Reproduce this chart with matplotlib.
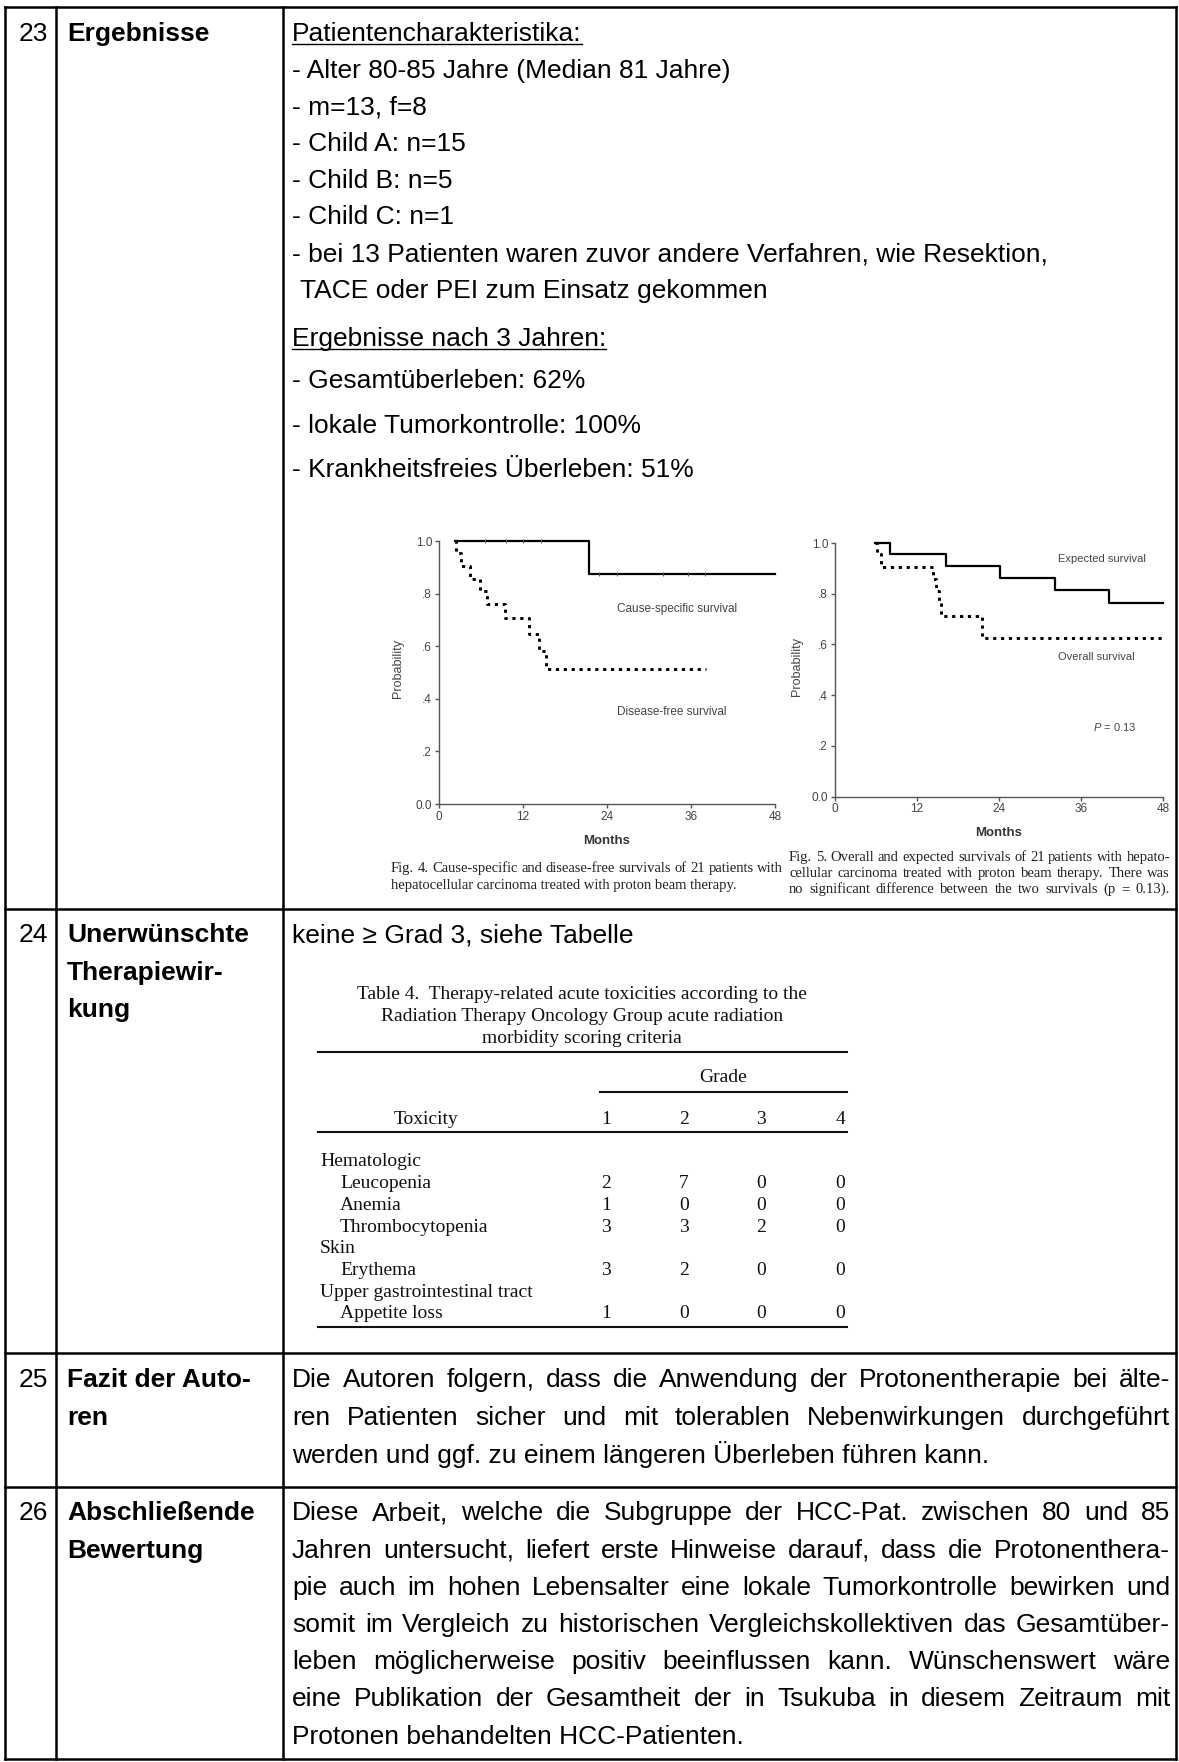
import matplotlib
matplotlib.use("Agg")
import matplotlib.pyplot as plt

W, H = 1179, 1762
SANS = ["Liberation Sans", "DejaVu Sans"]
SERIF = ["Liberation Serif", "DejaVu Serif"]
plt.rcParams["font.family"] = SANS
plt.rcParams["mathtext.fontset"] = "custom"
plt.rcParams["mathtext.it"] = "Liberation Sans:italic"
plt.rcParams["mathtext.rm"] = "Liberation Sans"

# --- survival curves (months, probability) ---
cause_t = [2.3, 21.4, 48.0]
cause_p = [1.0, 0.876, 0.876]
cause_cens_t = [6.5, 9.5, 12.0, 14.5, 22.8, 25.4, 32.0, 35.6, 38.0]
cause_cens_p = [1.0, 1.0, 1.0, 1.0, 0.876, 0.876, 0.876, 0.876, 0.876]

dfs_t = [2.3, 2.4, 3.2, 4.4, 5.9, 6.9, 9.4, 12.9, 14.3, 15.3, 38.1]
dfs_p = [1.0, 0.955, 0.905, 0.857, 0.81, 0.762, 0.707, 0.645, 0.58, 0.512, 0.512]

exp_t = [5.85, 8.05, 16.2, 24.1, 32.2, 40.1, 48.0]
exp_p = [1.0, 0.955, 0.909, 0.861, 0.815, 0.765, 0.765]

ovs_t = [5.85, 6.1, 6.8, 14.4, 14.8, 15.2, 15.5, 21.5, 48.0]
ovs_p = [1.0, 0.955, 0.907, 0.857, 0.81, 0.762, 0.714, 0.627, 0.627]

month_ticks = [0, 12, 24, 36, 48]
prob_ticks = [0.0, 0.2, 0.4, 0.6, 0.8, 1.0]
prob_labels = ["0.0", ".2", ".4", ".6", ".8", "1.0"]

# --- toxicity table ---
tox_groups = ["Hematologic", "Skin", "Upper gastrointestinal tract"]
tox_items = [["Leucopenia", "Anemia", "Thrombocytopenia"], ["Erythema"], ["Appetite loss"]]
grade1 = [2, 1, 3, 3, 1]
grade2 = [7, 0, 3, 2, 0]
grade3 = [0, 0, 2, 0, 0]
grade4 = [0, 0, 0, 0, 0]

fig = plt.figure(figsize=(W / 100, H / 100), dpi=100)
ax = fig.add_axes([0, 0, 1, 1])
ax.set_xlim(0, W)
ax.set_ylim(H, 0)
ax.axis("off")
renderer = fig.canvas.get_renderer()


def txt(x, yc, s, size=19, weight="normal", ha="left", family=SANS, color="black", cap=0.716, **kw):
    em = size / 0.72
    return ax.text(x, yc + cap * em / 2, s, fontsize=size, fontweight=weight, ha=ha,
                   va="baseline", family=family, color=color, **kw)


def justify(x0, x1, yc, s, size=19, family=SANS, color="black", cap=0.716):
    words = s.split()
    objs = [txt(0, yc, w, size=size, family=family, color=color, cap=cap) for w in words]
    widths = [o.get_window_extent(renderer).width for o in objs]
    gap = (x1 - x0 - sum(widths)) / (len(words) - 1)
    x = x0
    for o, w in zip(objs, widths):
        o.set_x(x)
        x += w + gap


def underlined(x, yc, s):
    t = txt(x, yc, s)
    w = t.get_window_extent(renderer).width
    yb = yc + 0.716 * (19 / 0.72) / 2 + 3
    ax.plot([x, x + w], [yb, yb], color="black", lw=1.0)


# --- outer table grid ---
LW = 1.8
x_left, x_c1, x_c2, x_right = 5, 56, 283, 1176
row_lines = [7, 909, 1353, 1487, 1759]
for y in row_lines:
    ax.plot([x_left, x_right], [y, y], color="black", lw=LW, solid_capstyle="projecting")
for x in [x_left, x_c1, x_c2, x_right]:
    ax.plot([x, x], [row_lines[0], row_lines[-1]], color="black", lw=LW, solid_capstyle="projecting")

# row numbers and labels
TX = 292
labels = [("23", ["Ergebnisse"], 32),
          ("24", ["Unerwünschte", "Therapiewir-", "kung"], 933),
          ("25", ["Fazit der Auto-", "ren"], 1378),
          ("26", ["Abschließende", "Bewertung"], 1511)]
for num, lines, y0 in labels:
    txt(48, y0, num, ha="right")
    for i, s in enumerate(lines):
        txt(67, y0 + 37.3 * i, s, weight="bold")

# row 23 text
underlined(TX, 32, "Patientencharakteristika:")
block1 = ["- Alter 80-85 Jahre (Median 81 Jahre)", "- m=13, f=8", "- Child A: n=15",
          "- Child B: n=5", "- Child C: n=1",
          "- bei 13 Patienten waren zuvor andere Verfahren, wie Resektion,"]
for i, s in enumerate(block1):
    txt(TX, 32 + 36.6 * (i + 1), s)
txt(TX + 8, 32 + 36.6 * 7, "TACE oder PEI zum Einsatz gekommen")
underlined(TX, 337, "Ergebnisse nach 3 Jahren:")
for i, s in enumerate(["- Gesamtüberleben: 62%", "- lokale Tumorkontrolle: 100%",
                       "- Krankheitsfreies Überleben: 51%"]):
    txt(TX, 379 + 44.5 * i, s)


# --- Kaplan-Meier panels ---
def km_axes(x0, x1, y_top, y_bot):
    a = fig.add_axes([x0 / W, 1 - y_bot / H, (x1 - x0) / W, (y_bot - y_top) / H])
    a.set_xlim(0, 48)
    a.set_ylim(0, 1)
    a.patch.set_alpha(0)
    for sp in ["top", "right"]:
        a.spines[sp].set_visible(False)
    for sp in ["left", "bottom"]:
        a.spines[sp].set_color("#555555")
        a.spines[sp].set_linewidth(1.0)
    a.set_xticks(month_ticks)
    a.set_yticks(prob_ticks)
    a.set_yticklabels(prob_labels)
    a.tick_params(direction="out", length=3, width=1, color="#555555",
                  labelsize=8.5, labelcolor="#444444", pad=2)
    return a


DOT = (0, (1.1, 1.6))
a1 = km_axes(439, 775, 541, 804)
a1.step(cause_t, cause_p, where="post", color="black", lw=1.6, clip_on=False)
a1.plot(cause_cens_t, cause_cens_p, ls="none", marker="|", ms=3, mew=0.7, color="#555555", clip_on=False)
a1.step(dfs_t, dfs_p, where="post", color="black", lw=2.1, ls=DOT, dash_capstyle="butt", clip_on=False)
a1.text(25.4, 0.743, "Cause-specific survival", fontsize=8.5, color="#444444", va="center")
a1.text(25.4, 0.35, "Disease-free survival", fontsize=8.5, color="#444444", va="center")

a2 = km_axes(835, 1163, 543, 796.5)
a2.step(exp_t, exp_p, where="post", color="black", lw=1.6, clip_on=False)
a2.step(ovs_t, ovs_p, where="post", color="black", lw=2.1, ls=DOT, dash_capstyle="butt", clip_on=False)
a2.text(32.6, 0.935, "Expected survival", fontsize=8, color="#444444", va="center")
a2.text(32.6, 0.552, "Overall survival", fontsize=8, color="#444444", va="center")
a2.text(37.8, 0.275, "$\\it{P}$ = 0.13", fontsize=8, color="#444444", va="center")

for xc, yc in [(398, 668), (797, 667)]:
    ax.text(xc, yc, "Probability", rotation=90, fontsize=9, color="#444444", ha="center", va="center")
txt(607, 839, "Months", size=9.5, weight="bold", ha="center", color="#333333")
txt(999, 831, "Months", size=9.5, weight="bold", ha="center", color="#333333")

# figure captions
CAP = 10.5
justify(391, 783, 867, "Fig. 4.  Cause-specific and disease-free survivals of 21 patients with",
        size=CAP, family=SERIF, color="#222222", cap=0.66)
txt(391, 884, "hepatocellular carcinoma treated with proton beam therapy.", size=CAP,
    family=SERIF, color="#222222", cap=0.66)
justify(789, 1170, 856, "Fig. 5.  Overall and expected survivals of 21 patients with hepato-",
        size=CAP, family=SERIF, color="#222222", cap=0.66)
justify(789, 1170, 872, "cellular carcinoma treated with proton beam therapy. There was",
        size=CAP, family=SERIF, color="#222222", cap=0.66)
justify(789, 1170, 888, "no significant difference between the two survivals (p = 0.13).",
        size=CAP, family=SERIF, color="#222222", cap=0.66)

# row 24: toxicity table
txt(TX, 933, "keine ≥ Grad 3, siehe Tabelle")
TS = 14
TC = "#111111"
for i, s in enumerate(["Table 4.  Therapy-related acute toxicities according to the",
                       "Radiation Therapy Oncology Group acute radiation",
                       "morbidity scoring criteria"]):
    txt(582, 993 + 22 * i, s, size=TS, family=SERIF, ha="center", cap=0.66, color=TC)
tl, tr = 318, 847
for y, x0 in [(1052, tl), (1092, 600), (1132, tl), (1327, tl)]:
    ax.plot([x0, tr], [y, y], color=TC, lw=1.5)
txt(723, 1076, "Grade", size=TS, family=SERIF, ha="center", cap=0.66, color=TC)
txt(426, 1118, "Toxicity", size=TS, family=SERIF, ha="center", cap=0.66, color=TC)
grade_x = [606, 684, 761, 840]
for g, gx in enumerate(grade_x):
    txt(gx, 1118, str(g + 1), size=TS, family=SERIF, ha="center", cap=0.66, color=TC)

grades = [grade1, grade2, grade3, grade4]
y = 1160
k = 0
for grp, items in zip(tox_groups, tox_items):
    txt(320, y, grp, size=TS, family=SERIF, cap=0.66, color=TC)
    y += 21.7
    for name in items:
        txt(340, y, name, size=TS, family=SERIF, cap=0.66, color=TC)
        for gx, col in zip(grade_x, grades):
            txt(gx, y, str(col[k]), size=TS, family=SERIF, ha="center", cap=0.66, color=TC)
        k += 1
        y += 21.7

# row 25
R = 1170
justify(TX, R, 1378, "Die Autoren folgern, dass die Anwendung der Protonentherapie bei älte-")
justify(TX, R, 1416, "ren Patienten sicher und mit tolerablen Nebenwirkungen durchgeführt")
txt(TX, 1454, "werden und ggf. zu einem längeren Überleben führen kann.")

# row 26
body26 = ["Diese Arbeit, welche die Subgruppe der HCC-Pat. zwischen 80 und 85",
          "Jahren untersucht, liefert erste Hinweise darauf, dass die Protonenthera-",
          "pie auch im hohen Lebensalter eine lokale Tumorkontrolle bewirken und",
          "somit im Vergleich zu historischen Vergleichskollektiven das Gesamtüber-",
          "leben möglicherweise positiv beeinflussen kann. Wünschenswert wäre",
          "eine Publikation der Gesamtheit der in Tsukuba in diesem Zeitraum mit"]
for i, s in enumerate(body26):
    justify(TX, R, 1511 + 37.2 * i, s)
txt(TX, 1511 + 37.2 * 6, "Protonen behandelten HCC-Patienten.")

fig.savefig("out.png", dpi=100)
